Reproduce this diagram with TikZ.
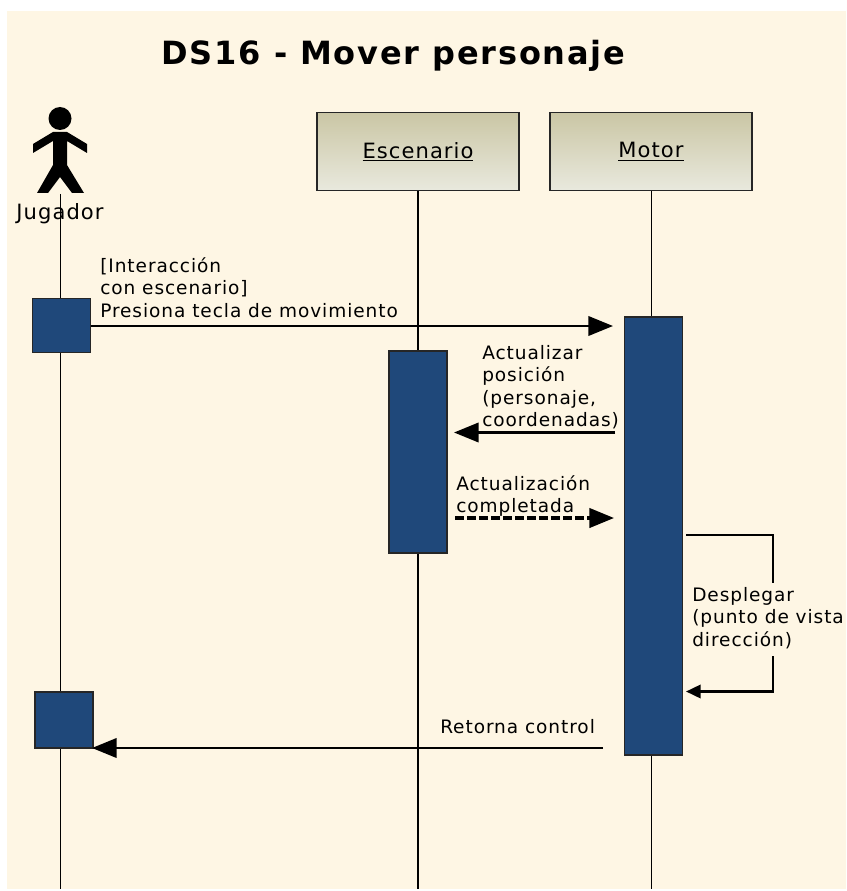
\documentclass[tikz,border=0pt]{standalone}
\usepackage{fontspec}
\setmainfont{DejaVu Sans}[LetterSpace=5]
\newfontfamily\titlefont{DejaVu Sans}[LetterSpace=5.6]
\usetikzlibrary{arrows.meta}
\definecolor{fondo}{HTML}{FEF6E4}
\definecolor{azul}{HTML}{1F487A}
\definecolor{cajaA}{HTML}{CAC6A4}
\definecolor{cajaB}{HTML}{E9E9DE}
\tikzset{
  x=0.75pt,y=-0.75pt,
  clase/.style={draw=black!85,line width=0.9pt,top color=cajaA,bottom color=cajaB,minimum width=151.5pt,minimum height=59pt,inner sep=0pt,font=\fontsize{15.8pt}{18pt}\selectfont},
  activo/.style={draw=black!85,line width=0.9pt,fill=azul,inner sep=0pt},
  vida/.style={line width=0.75pt},
  msg/.style={line width=2.1pt,-{Triangle[length=18.5pt,width=14.5pt]}},
  propio/.style={line width=1.9pt,line join=miter,-{Triangle[length=11pt,width=10pt]}},
  nota/.style={anchor=north west,align=left,inner sep=0pt,font=\fontsize{13.9pt}{16.9pt}\selectfont},
}
\begin{document}
\begin{tikzpicture}
    \useasboundingbox (0,0) rectangle (846,891);
    \fill[fondo] (7,11) rectangle (846,889);

    \node (titulo) at (393.5,56) {\titlefont\bfseries\fontsize{24pt}{28pt}\selectfont DS16 - Mover personaje};

    % actor
    \fill (60,118.5) circle[radius=11.5];
    \fill (53,132) -- (67,132) -- (87,144) -- (87,153) -- (67,141) -- (67,165) -- (84,193) -- (72,193)
       -- (60,177) -- (48,193) -- (37,193) -- (53,165) -- (53,141) -- (33,153) -- (33,144) -- cycle;
    \node[font=\fontsize{15.8pt}{18pt}\selectfont] (jugador) at (60,214) {Jugador};

    \node[clase] (escenario) at (418,151.5) {\underline{Escenario}};
    \node[clase] (motor) at (651,151.5) {\underline{Motor}};

    \coordinate (jugadorTop) at (60,194);
    \coordinate (jugadorFin) at (60,889);
    \coordinate (escenarioFin) at (418,889);
    \coordinate (motorFin) at (651,889);

    \draw[vida] (jugadorTop) -- (jugadorFin);
    \draw[vida,line width=1.1pt] (escenario.south) -- (escenarioFin);
    \draw[vida] (motor.south) -- (motorFin);

    \node[activo,minimum width=43.5pt,minimum height=40pt] (j1) at (61.5,325.5) {};
    \node[activo,minimum width=43.5pt,minimum height=42pt] (j2) at (64,720) {};
    \node[activo,minimum width=43.5pt,minimum height=151.5pt] (e1) at (418,452) {};
    \node[activo,minimum width=43pt,minimum height=328.5pt] (m1) at (653.5,536) {};

    % mensajes
    \coordinate (a1) at (613,326);
    \coordinate (a2a) at (615,432.5);
    \coordinate (a2b) at (454,432.5);
    \coordinate (a3a) at (455,518);
    \coordinate (a3b) at (614,518);
    \coordinate (a4a) at (686,535);
    \coordinate (a4b) at (773,535);
    \coordinate (a4c) at (773,583);
    \coordinate (a5a) at (773,656);
    \coordinate (a5b) at (773,691.5);
    \coordinate (a5c) at (686,691.5);
    \coordinate (a6a) at (603,748);
    \coordinate (a6b) at (92,748);

    \draw[msg] (j1.east |- a1) -- (a1);
    \draw[msg] (a2a) -- (a2b);
    \draw[msg,line width=2.4pt,dash pattern=on 7pt off 2pt] (a3a) -- (a3b);
    \draw[line width=1.9pt] (a4a) -- (a4b) -- (a4c);
    \draw[propio] (a5a) -- (a5b) -- (a5c);
    \draw[msg] (a6a) -- (a6b);

    \node[nota] (n1) at (100,257) {[Interacción\\con escenario]\\Presiona tecla de movimiento};
    \node[nota] (n2) at (482,345) {Actualizar\\posición\\(personaje,\\coordenadas)};
    \node[nota] (n3) at (456,475) {Actualización\\completada};
    \node[nota] (n4) at (692,587) {Desplegar\\(punto de vista\\dirección)};
    \node[nota] (n5) at (440,719) {Retorna control};
\end{tikzpicture}
\end{document}
